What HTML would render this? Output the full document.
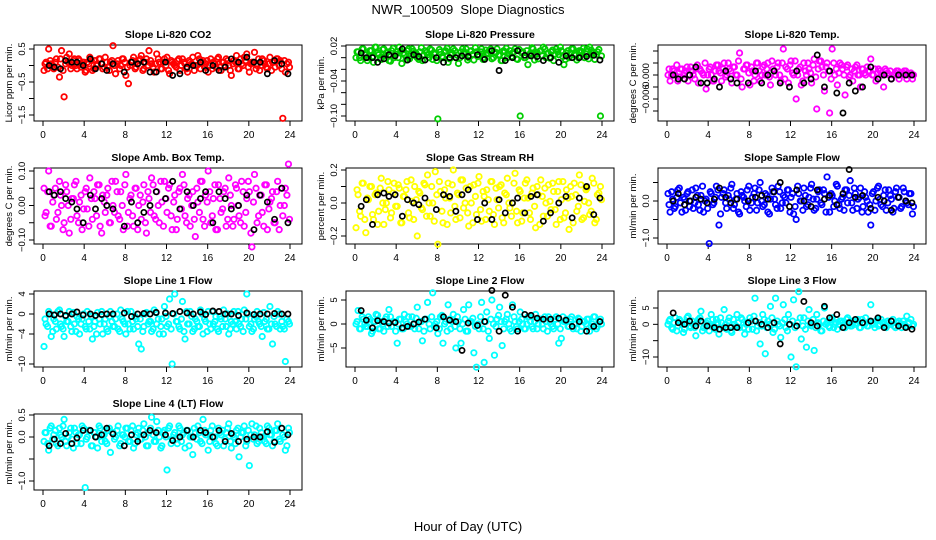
<!DOCTYPE html>
<html><head><meta charset="utf-8"><style>
html,body{margin:0;padding:0;background:#fff;}
svg{display:block;font-family:"Liberation Sans",sans-serif;}
</style></head><body>
<svg id="chart" width="936" height="540" viewBox="0 0 936 540" xmlns="http://www.w3.org/2000/svg">
<text x="468" y="14" text-anchor="middle" font-size="13" xml:space="preserve">NWR_100509  Slope Diagnostics</text>
<text x="468" y="531" text-anchor="middle" font-size="13">Hour of Day (UTC)</text>
</svg>
<script>
const hoursA=[0.1,0.3,0.55,0.8,1.05,1.3,1.6,1.8,2.05,2.3,2.55,2.8,3.05,3.3,3.55,3.8,4.1,4.3,4.55,4.8,5.05,5.3,5.55,5.8,6.05,6.3,6.55,6.8,7.05,7.3,7.55,7.8,8.05,8.3,8.55,8.8,9.05,9.3,9.55,9.8,10.05,10.3,10.55,10.8,11.05,11.3,11.55,11.8,12.05,12.3,12.55,12.8,13.05,13.3,13.55,13.8,14.05,14.3,14.55,14.8,15.05,15.3,15.55,15.8,16.05,16.3,16.55,16.8,17.05,17.3,17.55,17.8,18.05,18.3,18.55,18.8,19.05,19.3,19.55,19.8,20.05,20.3,20.55,20.8,21.05,21.3,21.55,21.8,22.05,22.3,22.55,22.8,23.05,23.3,23.55,23.85];
const hoursC=[0.2,0.45,0.7,0.95,1.2,1.45,1.7,1.95,2.2,2.45,2.7,2.95,3.2,3.45,3.7,3.95,4.2,4.45,4.7,4.95,5.2,5.45,5.7,5.95,6.2,6.45,6.7,6.95,7.2,7.45,7.7,7.95,8.2,8.45,8.7,8.95,9.2,9.45,9.7,9.95,10.2,10.45,10.7,10.95,11.2,11.45,11.7,11.95,12.2,12.45,12.7,12.95,13.2,13.45,13.7,13.95,14.2,14.45,14.7,14.95,15.2,15.45,15.7,15.95,16.2,16.45,16.7,16.95,17.2,17.45,17.7,17.95,18.2,18.45,18.7,18.95,19.2,19.45,19.7,19.95,20.2,20.45,20.7,20.95,21.2,21.45,21.7,21.95,22.2,22.45,22.7,22.95,23.2,23.45,23.7,23.95];
const hoursB=[0.6,1.1,1.7,2.2,2.8,3.3,3.9,4.6,5.1,5.7,6.2,6.8,7.9,8.6,9.2,9.8,10.4,11.0,11.9,12.6,13.3,14.0,14.6,15.3,15.8,16.5,17.1,17.7,18.3,19.0,19.8,20.5,21.1,21.8,22.5,23.2,23.8];
const xTicks=[0,4,8,12,16,20,24];
const p1a=[-0.15,0.1,0.5,0.05,-0.1,0.2,-0.35,0.45,-0.95,0.25,0.35,0.0,0.2,-0.1,0.15,0.05,-0.2,0.1,0.25,-0.15,0.15,0.05,0.2,-0.1,0.25,-0.05,0.1,0.6,-0.25,0.15,0.0,0.2,-0.3,-0.55,0.1,0.25,-0.05,0.15,0.3,-0.1,0.2,0.45,0.05,-0.2,0.35,0.1,-0.1,0.2,0.25,-0.25,0.1,0.0,0.15,-0.15,0.2,0.05,-0.2,0.1,0.25,0.0,0.3,-0.1,0.15,0.05,-0.2,0.2,0.1,-0.05,0.25,-0.15,0.1,0.2,0.0,-0.3,0.15,0.3,-0.1,0.05,0.25,0.35,-0.2,0.1,0.4,0.0,-0.15,0.2,0.05,-0.1,0.25,0.1,-0.05,0.2,0.15,-1.6,-0.2,0.1];
const p1c=[0.05,-0.1,0.15,0.0,0.1,-0.05,0.2,-0.15,0.05,0.1,-0.1,0.15,0.0,0.2,-0.05,0.1,-0.15,0.05,0.15,-0.1,0.0,0.2,0.05,-0.05,0.1,-0.15,0.15,0.0,0.05,-0.1,0.2,0.1,-0.05,0.0,0.15,-0.1,0.05,0.2,-0.15,0.1,0.0,0.15,-0.05,0.05,0.2,-0.1,0.1,0.0,-0.15,0.15,0.05,-0.05,0.2,0.0,0.1,-0.1,0.15,0.05,-0.15,0.0,0.2,0.1,-0.05,0.15,0.0,-0.1,0.05,0.2,-0.05,0.1,0.0,0.15,-0.15,0.05,0.1,-0.1,0.2,0.0,0.15,-0.05,0.05,0.1,-0.1,0.2,0.0,0.15,-0.05,0.05,-0.15,0.1,0.2,0.0,-0.1,0.15,0.05,-0.05];
const p1b=[0.0,-0.05,-0.1,0.15,0.1,0.1,0.0,0.2,-0.1,0.05,-0.15,0.05,-0.2,0.1,0.05,0.1,-0.2,-0.2,0.1,-0.3,-0.25,-0.05,0.0,0.1,-0.15,0.0,-0.15,-0.05,0.2,0.1,0.25,0.1,0.1,-0.25,0.15,0.05,-0.25];
const p2a=[0.0,0.01,-0.005,0.015,0.005,0.0,0.012,-0.008,0.018,0.005,-0.003,0.015,0.008,-0.005,0.012,0.0,0.01,0.018,-0.01,0.005,0.012,-0.002,0.015,0.008,0.0,0.01,-0.005,0.012,0.005,0.015,-0.003,0.008,-0.105,0.01,0.0,0.012,-0.008,0.005,0.015,0.0,-0.01,0.01,0.008,0.015,0.0,0.012,-0.004,0.01,0.005,0.015,0.0,0.008,0.012,-0.002,0.01,0.015,0.005,-0.005,0.01,0.0,0.012,0.008,0.015,-0.003,-0.1,0.01,0.0,-0.012,0.008,0.015,0.005,-0.002,0.012,0.018,0.0,0.008,0.01,-0.005,0.015,0.005,0.012,-0.012,0.008,0.0,0.015,0.005,-0.004,0.012,0.01,0.0,0.015,0.018,0.008,-0.003,0.01,-0.1];
const p2c=[0.01,0.0,0.015,0.005,-0.005,0.012,0.002,0.018,0.008,-0.002,0.014,0.004,0.01,-0.006,0.016,0.006,0.0,0.012,0.008,-0.004,0.015,0.003,0.011,0.007,-0.003,0.017,0.005,0.009,0.0,0.013,0.006,-0.005,0.014,0.002,0.01,0.016,-0.002,0.008,0.012,0.004,0.0,0.015,0.009,-0.004,0.011,0.006,0.017,0.002,0.01,-0.003,0.013,0.007,0.015,0.0,0.009,0.004,-0.005,0.012,0.016,0.006,0.002,0.01,-0.002,0.014,0.008,0.0,0.012,0.005,0.017,-0.004,0.009,0.011,0.003,0.015,0.007,-0.001,0.013,0.006,0.01,0.018,0.002,-0.003,0.012,0.008,0.015,0.004,0.0,0.011,0.016,0.006,-0.002,0.013,0.009,0.005,0.014,0.003];
const p2b=[0.008,0.0,0.0,-0.008,-0.002,0.005,0.003,0.015,-0.004,0.005,0.002,-0.004,0.0,-0.008,0.0,0.0,0.003,0.002,0.005,-0.003,0.012,-0.022,-0.005,0.0,0.012,0.004,0.003,0.002,-0.005,0.0,-0.008,0.003,0.0,0.0,0.002,0.004,-0.004];
const p3a=[0.0,-0.0015,0.0015,0.0,-0.0015,0.0015,0.0,0.001,-0.0015,0.002,0.0,0.0015,-0.002,0.001,0.0,-0.0035,0.0015,0.0,-0.0015,0.0025,0.001,-0.0015,0.003,0.0,0.0015,-0.002,0.002,0.0,0.0055,-0.003,0.0015,0.0025,-0.0025,0.001,0.0,0.003,-0.0015,0.002,0.0,0.003,-0.0025,0.0015,0.0,0.003,-0.0015,0.0065,0.002,-0.002,0.0035,0.0,-0.006,0.0015,-0.0025,0.003,0.0,0.0015,-0.002,0.004,-0.0085,0.0035,0.002,-0.004,0.003,-0.0095,0.0065,0.0,-0.0025,0.003,0.0015,-0.005,0.0025,0.0,-0.0015,0.002,0.0,-0.003,0.0015,0.0,0.001,0.004,0.0,-0.0015,0.0015,0.0,-0.003,0.001,0.0,-0.001,0.0,0.001,-0.001,0.0,0.001,-0.001,0.0,-0.001];
const p3c=[0.0015,0.0,0.001,0.0025,-0.0005,0.0015,0.0005,0.002,0.0,0.001,-0.001,0.0025,0.0015,0.0005,0.003,0.0,0.002,-0.0015,0.001,0.0025,0.0005,0.0015,-0.0005,0.003,0.001,0.002,0.0,0.0035,-0.001,0.0015,0.0025,0.0005,0.002,-0.0015,0.003,0.001,0.0,0.0025,0.0015,-0.0005,0.0035,0.001,0.002,0.0,0.003,-0.001,0.0015,0.0025,0.0005,0.0035,0.0,0.002,-0.0015,0.001,0.003,0.0005,0.0025,-0.0005,0.0015,0.0035,0.0,0.002,0.001,-0.001,0.003,0.0015,0.0005,0.0025,0.0,0.002,-0.0005,0.0015,0.001,0.0025,0.0,0.0015,0.0005,0.002,0.001,0.0,0.0015,0.0005,0.001,0.0,0.0015,0.0005,0.001,0.0,0.0005,0.001,0.0,0.0005,0.001,0.0,0.0005,0.0];
const p3b=[0.0,-0.001,-0.001,0.0,0.002,-0.002,-0.002,-0.001,-0.003,0.001,-0.001,-0.002,-0.002,0.001,-0.002,0.0,0.001,-0.002,-0.003,0.001,-0.002,-0.001,0.005,-0.003,0.001,-0.0045,-0.0095,-0.002,-0.004,-0.003,0.002,-0.001,0.0,-0.001,0.0,0.0,0.0];
const p4a=[0.05,-0.02,0.1,-0.06,0.03,-0.04,0.07,0.0,-0.05,0.04,-0.08,0.02,0.06,-0.03,0.01,-0.07,0.04,-0.01,0.08,-0.04,0.02,0.06,-0.06,0.03,-0.02,0.05,-0.05,0.0,0.07,-0.03,0.04,-0.07,0.09,-0.02,0.03,-0.06,0.05,0.0,-0.04,0.06,-0.08,0.02,0.08,-0.03,0.04,-0.05,0.01,0.07,-0.02,0.06,-0.07,0.03,-0.04,0.05,0.09,-0.03,0.02,-0.06,0.04,-0.09,0.01,0.07,-0.04,0.03,0.1,-0.05,0.02,-0.07,0.06,-0.02,0.04,-0.06,0.08,0.0,-0.04,0.05,-0.03,0.07,-0.06,0.02,0.04,-0.12,0.09,-0.05,0.03,-0.02,0.06,-0.07,0.01,0.04,-0.05,0.07,0.0,-0.03,0.05,0.12];
const p4c=[-0.03,0.04,-0.06,0.01,0.05,-0.02,0.03,-0.07,0.06,0.0,-0.04,0.02,0.07,-0.05,0.03,-0.01,0.05,-0.06,0.02,0.04,-0.03,0.06,-0.08,0.01,0.03,-0.05,0.07,-0.02,0.04,-0.04,0.0,0.06,-0.06,0.02,-0.03,0.05,-0.07,0.03,0.01,-0.05,0.04,-0.02,0.06,-0.04,0.0,0.07,-0.06,0.02,0.05,-0.03,0.01,-0.07,0.04,-0.01,0.06,-0.05,0.03,0.0,-0.04,0.05,-0.02,0.07,-0.06,0.01,0.04,-0.03,0.06,-0.07,0.02,-0.01,0.05,-0.04,0.03,-0.06,0.06,0.0,-0.05,0.04,-0.02,0.07,-0.08,0.01,0.05,-0.03,0.03,-0.06,0.06,-0.01,0.02,-0.05,0.04,-0.07,0.05,0.0,0.03,-0.04];
const p4b=[0.04,0.03,0.04,0.02,0.01,-0.01,-0.05,0.03,-0.01,0.02,0.0,-0.01,-0.06,0.01,-0.05,-0.02,0.0,0.04,0.02,0.07,-0.01,0.04,0.0,0.02,0.04,-0.05,0.04,0.02,-0.01,0.0,0.03,-0.07,0.03,0.01,-0.04,0.05,-0.05];
const p5a=[-0.15,0.05,-0.08,0.12,-0.18,0.02,0.1,-0.1,0.06,-0.05,0.15,-0.13,0.0,0.08,-0.06,0.12,-0.02,0.09,-0.12,0.04,0.13,-0.09,0.01,0.1,-0.2,0.06,-0.04,0.11,0.17,-0.08,0.0,0.19,-0.25,0.07,-0.12,0.03,0.12,-0.06,0.2,-0.1,0.05,0.14,-0.03,0.09,-0.14,0.0,0.11,-0.07,0.16,-0.11,0.04,0.08,-0.05,0.13,-0.13,0.02,0.1,-0.09,0.06,0.15,-0.03,0.0,0.18,-0.12,0.07,-0.06,0.12,0.03,-0.1,0.09,-0.15,0.05,0.14,-0.08,0.0,0.11,-0.04,0.07,-0.13,0.13,0.02,-0.09,0.08,-0.16,0.04,0.12,-0.05,0.17,-0.1,0.01,0.09,-0.07,0.15,-0.12,0.05,0.1];
const p5c=[0.08,-0.05,0.12,-0.1,0.03,0.1,-0.07,0.05,-0.13,0.09,0.0,-0.04,0.13,-0.09,0.06,-0.02,0.11,-0.12,0.04,0.08,-0.06,0.14,-0.1,0.02,0.07,-0.03,0.12,-0.08,0.0,0.1,-0.11,0.05,0.13,-0.05,0.08,-0.13,0.03,0.11,-0.02,0.06,-0.09,0.14,0.0,-0.06,0.1,-0.12,0.04,0.12,-0.04,0.07,-0.1,0.02,0.13,-0.07,0.09,-0.03,0.11,-0.12,0.05,0.0,-0.08,0.12,-0.05,0.08,-0.11,0.03,0.14,-0.06,0.06,-0.02,0.1,-0.13,0.04,0.09,-0.08,0.01,0.12,-0.04,0.07,-0.1,0.13,-0.06,0.03,0.1,-0.12,0.05,-0.02,0.11,-0.09,0.08,0.0,-0.05,0.12,-0.1,0.06,0.02];
const p5b=[-0.02,0.02,-0.13,0.05,0.06,0.04,0.05,-0.08,0.02,0.0,-0.01,0.03,-0.04,0.05,0.04,-0.05,0.05,0.08,-0.1,0.0,-0.1,0.02,-0.06,0.0,0.03,-0.06,0.04,0.05,-0.11,-0.06,0.0,0.04,-0.09,0.03,0.1,-0.07,0.03];
const p6a=[0.2,-0.3,0.05,-0.15,0.3,-0.05,0.1,-0.25,0.25,0.0,-0.2,0.35,-0.1,0.15,-0.3,0.05,-1.15,0.2,-0.05,0.4,-0.65,0.1,0.3,-0.2,0.05,0.45,-0.1,0.2,-0.35,0.15,0.0,0.3,-0.25,0.1,0.35,-0.05,0.5,-0.15,0.2,-0.3,0.05,0.25,-0.1,0.4,-0.2,0.15,-0.05,0.3,0.1,-0.35,-0.5,0.2,0.0,0.35,-0.15,0.1,0.45,-0.25,0.05,0.3,-0.1,0.2,0.65,-0.3,0.15,0.0,0.4,-0.2,0.1,0.3,-0.05,0.55,-0.25,0.2,0.05,0.35,-0.15,0.1,-0.3,-0.65,0.25,0.0,0.4,-0.1,0.15,-0.25,0.3,0.05,-0.2,0.35,0.1,-0.15,0.25,-0.05,0.2,-0.35];
const p6c=[-0.1,0.25,-0.2,0.1,0.35,-0.3,0.05,0.2,-0.15,0.3,-0.05,0.15,-0.25,0.4,0.0,-0.2,0.25,-0.1,0.1,0.3,-0.35,0.2,-0.05,0.15,0.35,-0.2,0.05,-0.3,0.25,0.1,-0.15,0.4,-0.05,0.2,-0.25,0.3,0.0,-0.1,0.15,-0.35,0.35,0.05,-0.2,0.25,-0.05,0.1,0.3,-0.3,0.2,-0.15,0.4,0.0,-0.25,0.15,-0.1,0.35,0.05,-0.2,0.25,-0.05,0.3,-0.3,0.1,0.2,-0.15,0.45,-0.1,0.05,-0.25,0.3,0.15,-0.05,0.35,-0.2,0.1,-0.3,0.25,0.0,-0.1,0.2,-0.25,0.35,0.05,-0.15,0.3,-0.05,0.15,-0.3,0.25,0.1,-0.2,0.35,0.0,-0.1,0.2,-0.15];
const p6b=[0.0,0.2,-0.1,0.0,0.1,0.05,-0.05,0.05,0.35,0.1,-0.05,0.05,0.0,0.1,0.15,0.05,0.25,0.5,-0.15,0.3,0.0,-0.15,0.3,0.05,0.15,-0.1,0.2,0.85,0.1,0.15,-0.2,0.1,0.0,-0.25,0.1,0.0,-0.05];
const p7a=[-6.5,-2,0.5,-4.5,-1,-3,0.8,-2.5,-4.5,-1.5,0.5,-3.5,-2,-0.5,-4,-1,-2.5,0.5,-3,-5,-1.5,0.3,-2,-4,-1,-3.5,0.5,-2.5,-1,-3,0.8,-1.5,-4,-2,0.5,-3,-1,-6,-7,-2.5,0.3,-1.5,-3.5,0.8,-2,-4,-1,1.5,-2.5,3,-10,4,-1.5,-3,2.5,-5,-2,0.5,-3.5,-1,-2.5,0.8,-4,-1.5,0.5,-3,-2,-0.5,-3.5,-1,0.8,-2.5,-4,-1.5,0.5,-3,-2,-1,0.8,4,-2.5,-3.5,-1,0.5,-2,-4.5,-1.5,-3,1.5,-6,-2,0.5,-3,-2.5,-9.5,-1.5];
const p7c=[-1,-2.5,0,-3.5,-1.5,0.5,-2,-3,-0.5,-1.5,-2.5,0.3,-3.5,-1,-2,0,-3,-1.5,-0.5,-2.5,-4,-1,0.5,-2,-3,-0.5,-1.5,-2.5,0,-3.5,-1,-2,0.5,-3,-1.5,-0.5,-2.5,-1,-3.5,0,-2,-1.5,-3,0.3,-1,-2.5,-4,-0.5,-2,-3,0,-1.5,-2.5,-1,-3.5,0.5,-2,-0.5,-3,-1.5,-2.5,0,-1,-3.5,-2,0.5,-1.5,-3,-0.5,-2.5,-1,0,-3,-2,-1.5,0.5,-2.5,-3.5,-1,0,-2,-3,-0.5,-1.5,-2.5,0.3,-1,-3,-2,-0.5,-2.5,0,-1.5,-3,-1,-2];
const p7b=[0,-0.2,0,-0.3,0,0.4,-0.2,0,-0.3,-0.1,0,0,0.2,-0.5,0,0.1,0,0.3,0.2,0.1,0.5,0.2,0,0.4,-0.1,0.6,0.5,0,0,-0.3,0.2,-0.1,0,0,0.1,0,0];
const p8a=[0,2.8,-1,1,-0.5,1.5,-2,0.5,2,-1,0.5,-1.5,1.5,3,-0.5,0.5,-4,1,-1,2,0,-0.5,1.5,-1,3.5,0.5,-3.5,1,4.5,-1,6.5,0,-2,1.5,-4,0.5,4,-1,2,-5,0.5,-4,3,-1.5,4,0.5,-6,-9,-1,4.5,-8,2.5,-3,5,-6.5,1,3.5,-4.5,0.5,2,-1,4,0.5,-1,2.5,0,-1,1.5,0.5,-1,2,0,1,-1,0.5,1.5,0,-1,1.5,-4,-3,0.5,1,-0.5,1.5,0,-1,1,-0.5,0.5,1,-1.5,0,1.5,-0.5,1];
const p8c=[0.5,-1,1.5,0,-0.5,1,-1.5,0.5,1.8,-1,0,1,-0.5,1.5,0.5,-1.5,0,1,-1,0.5,1.5,-0.5,0,1.2,-1,0.5,-1.5,1,0,1.5,-0.5,0.5,-1,1.8,0,-1.5,1,0.5,-0.5,1.5,-1,0,1,-1.5,0.5,1.2,-0.5,0,1.5,-1,0.5,-1.5,1,0,-0.5,1.8,0.5,-1,1,0,-1.5,1.5,-0.5,0.5,1,-1,0,1.5,-0.5,0.5,-1,1,0,1.5,-1.5,0.5,-0.5,1,0,-1,1.5,0.5,-0.5,1,-1,0,1.2,-1.5,0.5,0,1,-0.5,1.5,-1,0.5,0];
const p8b=[2.8,0.8,-0.8,0.7,0.5,0.2,0.3,-0.8,-0.5,0,0.4,1,-0.8,1.5,0.8,0.5,-5.5,0.2,-0.3,0.5,7,-1.5,6,3.5,-1.5,2,1.8,1.2,1,1,1.2,0.8,-0.5,0.5,-1.5,-0.5,0.5];
const p9a=[0,1.5,-1.5,2,-0.5,1,-2.5,0.5,2.5,-1,0,-3.5,1.5,4,-1,0.5,-2,3,-0.5,1.5,-3,0.5,4.5,-1.5,2,-2.5,0,3,-1,1.5,-3,0.5,2,-1.5,8,-0.5,-6,3,-9,1,5.5,-2.5,8,0,-4,6,-1,3,-10,7.5,-13,10,-4.5,2,-7,4.5,-0.5,-8,3,0,-2,5,0.5,-1,2,0,-1.5,1,0.5,-1,2,-0.5,1,0,1.5,-1,0.5,2,-0.5,6,0,1,-0.5,1.5,0,-1,0.5,1,-0.5,0.5,1,-1,0,2.5,0.5,-0.5];
const p9c=[1,-1,0.5,-2,1.5,0,-1.5,2,-0.5,1,-1,0.5,2,-2,0,1,-0.5,1.5,-1.5,0.5,2,-1,0,1,-2,1.5,-0.5,0.5,2,-1,0,-1.5,1,2.5,-2,0.5,-0.5,1.5,-1,0,2,-1.5,1,-0.5,0.5,1.5,-2,0,1,-1,0.5,2,-0.5,-1.5,1,0,1.5,-1,0.5,-2,1,0,-0.5,1.5,-1,0.5,0,1,-1,1.5,0,-0.5,1,0.5,-1,1.5,0,-0.5,1,0.5,-1,1.5,0,0.5,-0.5,1,0,1.5,-1,0.5,0,1,-0.5,0.5,1.5,0];
const p9b=[3.5,0.5,0,1,-0.5,1,-0.5,-1,-1.5,-1,-1,-1,0.5,1,0,-1,0.5,-6,0,-0.5,7,0.5,-0.5,5.5,2,3,-1,0.5,1.5,0.5,1,2,-1,1,-0.5,-1,-1.5];
const p10a=[-0.1,0.1,-0.3,0.25,0.05,-0.15,0.2,0.0,0.4,-0.2,0.1,-0.05,0.2,-0.15,0.05,0.25,-1.15,0.0,0.15,-0.2,0.1,-0.25,0.2,0.05,-0.1,0.15,-0.35,0.1,0.0,0.25,-0.15,0.05,0.2,-0.1,0.15,-0.25,0.05,0.2,-0.05,0.3,-0.2,0.1,0.45,-0.1,0.35,0.0,-0.2,0.15,-0.75,0.25,-0.05,0.1,-0.15,0.2,0.05,-0.25,0.15,0.0,-0.4,0.1,0.25,-0.1,0.4,0.05,-0.3,0.15,0.0,-0.15,0.2,0.05,-0.2,0.1,0.3,-0.25,0.0,0.15,-0.45,0.1,0.25,-0.1,-0.65,0.3,0.05,-0.15,0.2,0.0,-0.1,0.25,0.05,-0.2,0.15,0.3,-0.1,0.05,-0.3,0.2];
const p10c=[0.1,-0.15,0.2,-0.05,0.15,-0.2,0.05,0.25,-0.1,0.0,0.2,-0.25,0.1,0.05,-0.15,0.2,-0.05,0.15,-0.2,0.1,0.0,0.25,-0.1,0.05,-0.15,0.2,0.1,-0.05,0.15,-0.2,0.05,0.0,0.2,-0.1,0.25,-0.15,0.1,-0.05,0.15,0.0,-0.2,0.2,0.05,-0.1,0.15,-0.25,0.1,0.0,0.2,-0.15,0.05,-0.05,0.25,-0.1,0.1,0.15,-0.2,0.0,0.2,-0.05,0.1,-0.15,0.15,0.05,-0.1,0.25,0.0,-0.2,0.1,0.15,-0.05,0.2,-0.1,0.05,-0.15,0.2,0.0,0.1,-0.2,0.15,0.05,-0.05,0.25,-0.1,0.1,0.0,-0.15,0.2,0.05,-0.1,0.15,-0.05,0.2,0.0,-0.2,0.1];
const p10b=[-0.2,-0.05,-0.15,0.08,-0.15,-0.02,0.15,0.15,0.0,0.05,0.2,0.07,-0.2,0.05,-0.1,0.05,0.15,0.1,0.05,-0.08,0.0,0.15,0.0,0.15,0.1,0.0,0.15,-0.1,0.08,-0.1,-0.05,0.0,0.0,0.12,-0.12,0.2,0.05];

const NS='http://www.w3.org/2000/svg';
const svg=document.getElementById('chart');
function el(tag,attrs,parent){const e=document.createElementNS(NS,tag);for(const k in attrs)e.setAttribute(k,attrs[k]);(parent||svg).appendChild(e);return e;}

const panels=[
 {t:'Slope Li-820 CO2',yl:'Licor ppm per min.',c:'#ff0000',a:p1a,cc:p1c,b:p1b,v1:0.5,y1:49,v2:-1.5,y2:115,ticks:[0.5,0,-0.5,-1,-1.5],labels:['0.5','','-0.5','','-1.5']},
 {t:'Slope Li-820 Pressure',yl:'kPa per min.',c:'#00cd00',a:p2a,cc:p2c,b:p2b,v1:0.02,y1:46,v2:-0.10,y2:116,ticks:[0.02,0,-0.02,-0.04,-0.06,-0.08,-0.10],labels:['0.02','','','-0.04','','','-0.10']},
 {t:'Slope Li-820 Temp.',yl:'degrees C per min.',c:'#ff00ff',a:p3a,cc:p3c,b:p3b,v1:0.003,y1:63,v2:0,y2:75,ticks:[0.006,0.003,0,-0.003,-0.006,-0.009],labels:['','','0.000','','-0.006','']},
 {t:'Slope Amb. Box Temp.',yl:'degrees C per min.',c:'#ff00ff',a:p4a,cc:p4c,b:p4b,v1:0.10,y1:48,v2:-0.10,y2:117,ticks:[0.10,0.05,0,-0.05,-0.10],labels:['0.10','','0.00','','-0.10']},
 {t:'Slope Gas Stream RH',yl:'percent per min.',c:'#ffff00',a:p5a,cc:p5c,b:p5b,v1:0.2,y1:47,v2:-0.2,y2:113,ticks:[0.2,0.1,0,-0.1,-0.2],labels:['0.2','','0.0','','-0.2']},
 {t:'Slope Sample Flow',yl:'ml/min per min.',c:'#0000ff',a:p6a,cc:p6c,b:p6b,v1:0,y1:78,v2:-1,y2:115,ticks:[0.5,0,-0.5,-1],labels:['','0.0','','-1.0']},
 {t:'Slope Line 1 Flow',yl:'ml/min per min.',c:'#00ffff',a:p7a,cc:p7c,b:p7b,v1:4,y1:48,v2:-10,y2:118,ticks:[4,0,-4,-10],labels:['4','0','-4','-10']},
 {t:'Slope Line 2 Flow',yl:'ml/min per min.',c:'#00ffff',a:p8a,cc:p8c,b:p8b,v1:5,y1:54,v2:-5,y2:102,ticks:[5,0,-5],labels:['5','0','-5']},
 {t:'Slope Line 3 Flow',yl:'ml/min per min.',c:'#00ffff',a:p9a,cc:p9c,b:p9b,v1:5,y1:62,v2:-10,y2:111,ticks:[5,0,-5,-10],labels:['5','0','','-10']},
 {t:'Slope Line 4 (LT) Flow',yl:'ml/min per min.',c:'#00ffff',a:p10a,cc:p10c,b:p10b,v1:0.5,y1:46,v2:-1,y2:112,ticks:[0.5,0,-0.5,-1],labels:['0.5','0.0','','-1.0']}
];
const colLeft=[34,346,658], rowTop=[0,123,246,369];
const W=268, H=76;
const key=['co2','pressure','temp','amb-temp','rh','sample-flow','line1','line2','line3','line4'];
panels.forEach((p,i)=>{
  const L=colLeft[i%3], R0=rowTop[Math.floor(i/3)], T=45+R0;
  const g=el('g',{});
  
  
  const xs=h=>L+9+h*(247/24);
  const ys=v=>R0+p.y1+(v-p.v1)*(p.y2-p.y1)/(p.v2-p.v1);
  const tt=el('text',{x:L+W/2,y:T-7,'text-anchor':'middle','font-size':'10.5','font-weight':'bold'},g);tt.textContent=p.t;
  
  
  const box=el('rect',{x:L,y:T,width:W,height:H,fill:'none',stroke:'#000','stroke-width':1},g);
  
  
  el('line',{x1:xs(0),x2:xs(24),y1:T+H,y2:T+H,stroke:'#000'},g);
  xTicks.forEach(h=>{el('line',{x1:xs(h),x2:xs(h),y1:T+H,y2:T+H+5,stroke:'#000'},g);
    const tx=el('text',{x:xs(h),y:T+H+17,'text-anchor':'middle','font-size':'10'},g);tx.textContent=h;
    
    });
  el('line',{x1:L,x2:L,y1:ys(p.ticks[0]),y2:ys(p.ticks[p.ticks.length-1]),stroke:'#000'},g);
  p.ticks.forEach((v,k)=>{const y=ys(v);el('line',{x1:L-5,x2:L,y1:y,y2:y,stroke:'#000'},g);
    if(p.labels[k]){const tx=el('text',{x:L-9,y:y,'text-anchor':'middle','font-size':'9.5',transform:`rotate(-90 ${L-9} ${y})`},g);tx.textContent=p.labels[k].replace('-','\u2212');
    
    }});
  const yt=el('text',{x:L-22,y:T+H/2,'text-anchor':'middle','font-size':'9.5',transform:`rotate(-90 ${L-22} ${T+H/2})`},g);yt.textContent=p.yl;
  
  
  const n2=Math.min(hoursC.length,p.cc.length);
  for(let k=0;k<n2;k++){const c=el('circle',{cx:xs(hoursC[k]),cy:ys(p.cc[k]),r:2.7,fill:'none',stroke:p.c,'stroke-width':1.8},g);
    
    }
  const n=Math.min(hoursA.length,p.a.length);
  for(let k=0;k<n;k++){const c=el('circle',{cx:xs(hoursA[k]),cy:ys(p.a[k]),r:2.7,fill:'none',stroke:p.c,'stroke-width':1.8},g);
    
    }
  const m=Math.min(hoursB.length,p.b.length);
  for(let k=0;k<m;k++){const c=el('circle',{cx:xs(hoursB[k]),cy:ys(p.b[k]),r:2.6,fill:'none',stroke:'#000','stroke-width':1.7},g);
    
    }
});
</script>
</body></html>
